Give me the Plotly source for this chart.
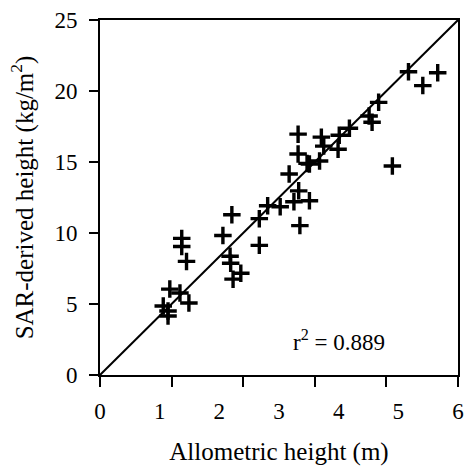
import plotly.graph_objects as go

# Allometric height (m) vs SAR-derived height for the sample plots
allometric_height = [5.17, 5.41, 5.66, 4.67, 4.51, 4.56, 4.18, 4.01, 3.71, 3.75,
                     3.99, 3.68, 3.51, 3.32, 3.32, 4.90, 3.17, 3.33, 3.25, 3.51,
                     3.02, 2.81, 2.67, 3.35, 2.21, 2.06, 2.67, 1.37, 1.37, 1.45,
                     2.18, 2.19, 2.36, 2.23, 1.17, 1.34, 1.49, 1.06, 1.14, 1.14,
                     3.47]
sar_height = [21.36, 20.38, 21.29, 19.20, 18.24, 17.80, 17.38, 16.88, 16.75, 16.12,
              15.90, 15.07, 14.86, 16.96, 15.56, 14.72, 14.16, 12.97, 12.20, 12.27,
              11.85, 11.92, 11.01, 10.52, 11.29, 9.82, 9.13, 9.62, 9.05, 8.00,
              8.36, 7.87, 7.17, 6.75, 6.05, 5.77, 5.07, 4.86, 4.51, 4.16,
              14.90]

x_range = [0, 6]
y_range = [0, 25]
x_label_vals = [0, 1, 2, 3, 4, 5, 6]
x_mark_vals = [0, 1.2, 2.4, 3.6, 4.8, 6.0]
y_tick_vals = [0, 5, 10, 15, 20, 25]
r_squared = 0.889

serif = "'Times New Roman', 'Liberation Serif', 'DejaVu Serif', serif"

fig = go.Figure()

# reference line across the full frame
fig.add_trace(go.Scatter(
    x=x_range, y=y_range, mode="lines", xaxis="x2",
    line=dict(color="black", width=2), hoverinfo="skip", showlegend=False,
))

fig.add_trace(go.Scatter(
    x=allometric_height, y=sar_height, mode="markers",
    marker=dict(symbol="cross-thin", size=12.5, color="black",
                line=dict(color="black", width=3.4)),
    showlegend=False,
))

fig.add_annotation(
    x=4.0, y=2.4, xref="x", yref="y", showarrow=False,
    text=f"r<sup>2</sup> = {r_squared}",
    font=dict(family=serif, size=23, color="black"),
)

fig.update_layout(
    width=468, height=466,
    margin=dict(l=100, r=4, t=20, b=89),
    paper_bgcolor="white", plot_bgcolor="white",
    font=dict(family=serif, color="black"),
    xaxis=dict(
        range=x_range, tickvals=x_mark_vals, showticklabels=False,
        ticks="outside", ticklen=10, tickwidth=2, tickcolor="black",
        showline=True, linewidth=2, linecolor="black", mirror=True,
        showgrid=False, zeroline=False,
    ),
    xaxis2=dict(
        range=x_range, overlaying="x", anchor="y", side="bottom",
        tickvals=x_label_vals, ticks="outside", ticklen=15,
        tickcolor="rgba(0,0,0,0)",
        tickfont=dict(family=serif, size=23, color="black"),
        showline=False, showgrid=False, zeroline=False,
        title=dict(text="Allometric height (m)", standoff=21,
                   font=dict(family=serif, size=25, color="black")),
    ),
    yaxis=dict(
        range=y_range, tickvals=y_tick_vals,
        ticks="outside", ticklen=9, tickwidth=2, tickcolor="black",
        tickfont=dict(family=serif, size=23, color="black"),
        ticklabelstandoff=7,
        showline=True, linewidth=2, linecolor="black", mirror=True,
        showgrid=False, zeroline=False,
        title=dict(text="SAR-derived height (kg/m<sup>2</sup>)", standoff=14,
                   font=dict(family=serif, size=25, color="black")),
    ),
)

fig.write_html("out.html")
